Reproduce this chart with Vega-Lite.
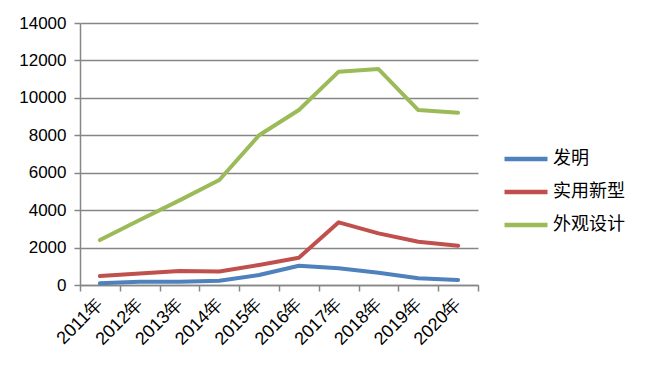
{
  "$schema": "https://vega.github.io/schema/vega-lite/v6.json",
  "autosize": {"type": "none"},
  "padding": {"left": 80, "top": 23, "right": 175, "bottom": 93},
  "width": 398,
  "height": 262,
  "background": "white",
  "data": {"values": [
    {"year": "2011年", "type": "发明", "value": 90},
    {"year": "2012年", "type": "发明", "value": 170},
    {"year": "2013年", "type": "发明", "value": 180},
    {"year": "2014年", "type": "发明", "value": 230},
    {"year": "2015年", "type": "发明", "value": 535},
    {"year": "2016年", "type": "发明", "value": 1030},
    {"year": "2017年", "type": "发明", "value": 890},
    {"year": "2018年", "type": "发明", "value": 660},
    {"year": "2019年", "type": "发明", "value": 360},
    {"year": "2020年", "type": "发明", "value": 270},
    {"year": "2011年", "type": "实用新型", "value": 480},
    {"year": "2012年", "type": "实用新型", "value": 620},
    {"year": "2013年", "type": "实用新型", "value": 750},
    {"year": "2014年", "type": "实用新型", "value": 720},
    {"year": "2015年", "type": "实用新型", "value": 1070},
    {"year": "2016年", "type": "实用新型", "value": 1460},
    {"year": "2017年", "type": "实用新型", "value": 3350},
    {"year": "2018年", "type": "实用新型", "value": 2760},
    {"year": "2019年", "type": "实用新型", "value": 2310},
    {"year": "2020年", "type": "实用新型", "value": 2100},
    {"year": "2011年", "type": "外观设计", "value": 2400},
    {"year": "2012年", "type": "外观设计", "value": 3470},
    {"year": "2013年", "type": "外观设计", "value": 4520},
    {"year": "2014年", "type": "外观设计", "value": 5610},
    {"year": "2015年", "type": "外观设计", "value": 8000},
    {"year": "2016年", "type": "外观设计", "value": 9350},
    {"year": "2017年", "type": "外观设计", "value": 11400},
    {"year": "2018年", "type": "外观设计", "value": 11540},
    {"year": "2019年", "type": "外观设计", "value": 9350},
    {"year": "2020年", "type": "外观设计", "value": 9210}
  ]},
  "mark": {"type": "line", "strokeWidth": 4, "strokeJoin": "round", "strokeCap": "round"},
  "encoding": {
    "x": {
      "field": "year", "type": "ordinal",
      "scale": {"type": "band", "paddingInner": 0, "paddingOuter": 0},
      "axis": {
        "title": null, "labelAngle": -45, "labelAlign": "right", "labelBaseline": "middle",
        "labelFont": "Liberation Sans", "labelFontSize": 18, "labelColor": "#000000",
        "domainColor": "#868686", "domainWidth": 1.5,
        "tickColor": "#868686", "tickWidth": 1.5, "tickSize": 6, "tickBand": "extent",
        "labelPadding": 10, "grid": false
      }
    },
    "y": {
      "field": "value", "type": "quantitative",
      "scale": {"domain": [0, 14000], "nice": false},
      "axis": {
        "title": null, "values": [0, 2000, 4000, 6000, 8000, 10000, 12000, 14000],
        "format": "d", "labelFont": "Liberation Sans", "labelFontSize": 17, "labelColor": "#000000",
        "domainColor": "#868686", "domainWidth": 1.5,
        "tickColor": "#868686", "tickWidth": 1.5, "tickSize": 6, "labelPadding": 8,
        "grid": true, "gridColor": "#868686", "gridWidth": 1.5
      }
    },
    "color": {
      "field": "type", "type": "nominal",
      "scale": {"domain": ["发明", "实用新型", "外观设计"], "range": ["#4F81BD", "#C0504D", "#9BBB59"]},
      "legend": {
        "title": null, "orient": "none", "legendX": 422, "legendY": 112,
        "symbolType": "stroke", "symbolSize": 1849, "symbolStrokeWidth": 4.5,
        "labelFont": "Noto Sans CJK SC", "labelFontSize": 18, "labelColor": "#000000",
        "labelOffset": 3, "rowPadding": -4
      }
    }
  },
  "config": {"view": {"stroke": null}}
}
